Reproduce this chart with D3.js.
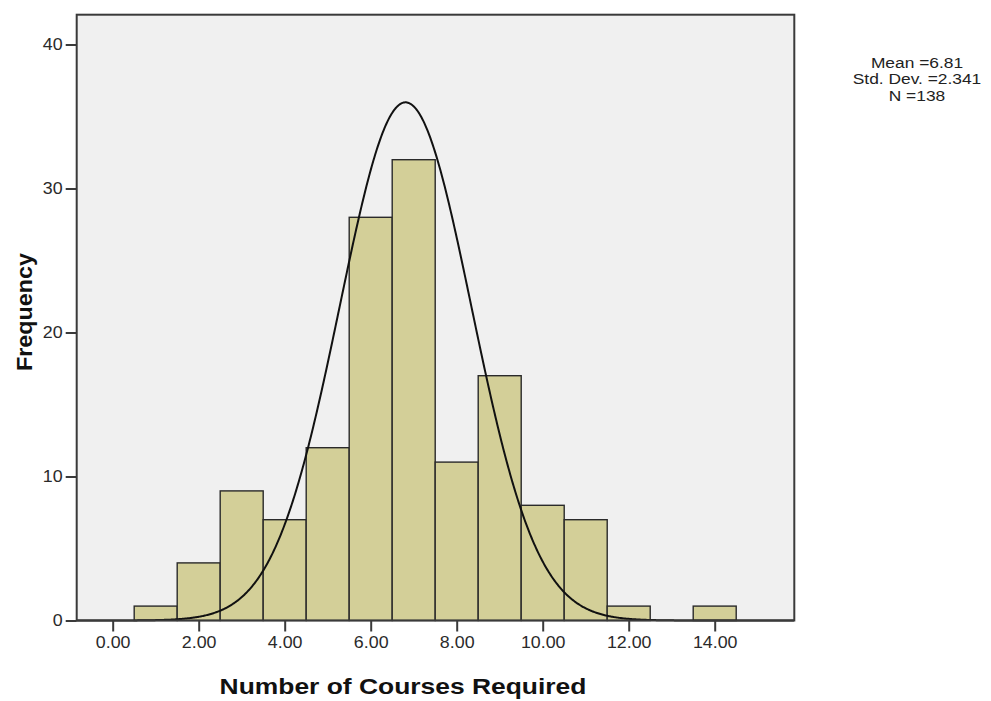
<!DOCTYPE html>
<html>
<head>
<meta charset="utf-8">
<script src="https://cdn.jsdelivr.net/npm/d3@7"></script>
<style>
  html, body { margin: 0; padding: 0; background: #ffffff; }
  svg { display: block; }
  text { font-family: Arial, "Liberation Sans", sans-serif; }
</style>
</head>
<body>
<svg id="chart" width="991" height="701"></svg>
<script>
// Histogram bins (bin centre = number of courses, width 1)
const binCenters = [1, 2, 3, 4, 5, 6, 7, 8, 9, 10, 11, 12, 13, 14];
const frequencies = [1, 4, 9, 7, 12, 28, 32, 11, 17, 8, 7, 1, 0, 1];
const binWidth = 1;

// Summary statistics shown beside the plot
const statMean = 6.81;
const statStdDev = 2.341;
const statN = 138;
const statLines = ["Mean =6.81", "Std. Dev. =2.341", "N =138"];

// Spread of the overlaid normal curve
const curveSd = 1.53;

// Axis ticks
const xTicks = [0, 2, 4, 6, 8, 10, 12, 14];
const yTicks = [0, 10, 20, 30, 40];

const svg = d3.select("#chart");

const plot = { left: 76.7, right: 794.3, top: 14.7, bottom: 620.5 };

const x = d3.scaleLinear()
  .domain([-0.837, 15.851])
  .range([plot.left, plot.right]);

const y = d3.scaleLinear()
  .domain([0, 42.07])
  .range([plot.bottom, plot.top]);

// plot background
svg.append("rect")
  .attr("x", plot.left).attr("y", plot.top)
  .attr("width", plot.right - plot.left)
  .attr("height", plot.bottom - plot.top)
  .attr("fill", "#f0f0f0");

// bars
svg.append("g").selectAll("rect")
  .data(binCenters.map((c, i) => ({ c, f: frequencies[i] })).filter(d => d.f > 0))
  .join("rect")
  .attr("x", d => x(d.c - binWidth / 2))
  .attr("y", d => y(d.f))
  .attr("width", d => x(d.c + binWidth / 2) - x(d.c - binWidth / 2))
  .attr("height", d => y(0) - y(d.f))
  .attr("fill", "#d3cf98")
  .attr("stroke", "#2a2a2a")
  .attr("stroke-width", 1.4);

// normal curve scaled to the histogram's counts
const peak = statN * binWidth / (curveSd * Math.sqrt(2 * Math.PI));
const curvePts = d3.range(x.domain()[0], x.domain()[1] + 0.001, 0.02)
  .map(v => [v, peak * Math.exp(-0.5 * Math.pow((v - statMean) / curveSd, 2))]);

svg.append("path")
  .datum(curvePts)
  .attr("fill", "none")
  .attr("stroke", "#111")
  .attr("stroke-width", 2)
  .attr("d", d3.line().x(d => x(d[0])).y(d => y(d[1])));

// frame
svg.append("rect")
  .attr("x", plot.left).attr("y", plot.top)
  .attr("width", plot.right - plot.left)
  .attr("height", plot.bottom - plot.top)
  .attr("fill", "none")
  .attr("stroke", "#3a3a3a")
  .attr("stroke-width", 2);

function widen(sel, factor) {
  sel.each(function () {
    const w = this.getComputedTextLength();
    d3.select(this)
      .attr("textLength", w * factor)
      .attr("lengthAdjust", "spacingAndGlyphs");
  });
}

// x axis
const xAxis = svg.append("g")
  .attr("transform", `translate(0,${plot.bottom})`)
  .call(d3.axisBottom(x).tickValues(xTicks).tickFormat(d3.format(".2f"))
    .tickSize(11).tickPadding(5));
xAxis.select(".domain").remove();
xAxis.selectAll(".tick line").attr("stroke", "#3a3a3a").attr("stroke-width", 2);
xAxis.selectAll(".tick text")
  .attr("font-size", 16.5)
  .attr("fill", "#2a2a2a")
  .attr("font-family", "Arial, 'Liberation Sans', sans-serif");
widen(xAxis.selectAll(".tick text"), 1.08);

// y axis
const yAxis = svg.append("g")
  .attr("transform", `translate(${plot.left},0)`)
  .call(d3.axisLeft(y).tickValues(yTicks).tickSize(11).tickPadding(3));
yAxis.select(".domain").remove();
yAxis.selectAll(".tick line").attr("stroke", "#3a3a3a").attr("stroke-width", 2);
yAxis.selectAll(".tick text")
  .attr("font-size", 16.5)
  .attr("fill", "#2a2a2a")
  .attr("font-family", "Arial, 'Liberation Sans', sans-serif");
widen(yAxis.selectAll(".tick text"), 1.08);

// axis titles
const xTitle = svg.append("text")
  .attr("x", 403).attr("y", 694)
  .attr("text-anchor", "middle")
  .attr("font-size", 22)
  .attr("font-weight", "bold")
  .attr("fill", "#111")
  .text("Number of Courses Required");
widen(xTitle, 1.2);

const yTitle = svg.append("text")
  .attr("transform", "translate(31.5,312) rotate(-90)")
  .attr("text-anchor", "middle")
  .attr("font-size", 22)
  .attr("font-weight", "bold")
  .attr("fill", "#111")
  .text("Frequency");
widen(yTitle, 1.06);

// statistics block
const stats = svg.append("g");
stats.selectAll("text")
  .data(statLines)
  .join("text")
  .attr("x", 917)
  .attr("y", (d, i) => 67.5 + i * 16.5)
  .attr("text-anchor", "middle")
  .attr("font-size", 15.5)
  .attr("fill", "#222")
  .text(d => d);
widen(stats.selectAll("text"), 1.12);
</script>
</body>
</html>
